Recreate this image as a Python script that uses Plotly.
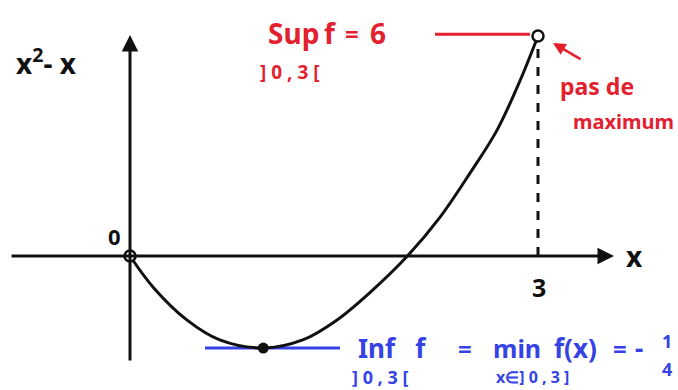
import plotly.graph_objects as go

# hand-drawn curve of x^2 - x on ]0,3[ (sketch units, not to scale)
curve_x = [0, 0.17, 0.42, 0.66, 0.98, 1.27, 1.52, 1.76, 2.04, 2.28, 2.5, 2.7, 2.87, 3.0]
curve_y = [0, -0.85, -1.75, -2.29, -2.51, -2.29, -1.75, -1.01, 0, 1.06, 2.26, 3.44, 4.8, 6.0]

sup_x, sup_y = 3.0, 6.0
inf_x, inf_y = 0.98, -2.51
open_x = [0, sup_x]
open_y = [0, sup_y]

RED = "#e3202e"
BLUE = "#3442e6"
INK = "#111111"
FONT = "Noto Sans, Lato, sans-serif"

W, H = 678, 390
X0, Y0, SX, SY = 130, 256, 136, 36.67   # pixel of origin + px per unit


def dx(px):
    return (px - X0) / SX


def dy(py):
    return (Y0 - py) / SY


fig = go.Figure()

# axes
fig.add_annotation(x=dx(614), y=0, ax=dx(10), ay=0, xref="x", yref="y", axref="x", ayref="y",
                   showarrow=True, arrowhead=2, arrowsize=1.1, arrowwidth=3, arrowcolor=INK, text="")
fig.add_annotation(x=0, y=dy(35), ax=0, ay=dy(362), xref="x", yref="y", axref="x", ayref="y",
                   showarrow=True, arrowhead=2, arrowsize=1.1, arrowwidth=3, arrowcolor=INK, text="")

# dashed drop line at x = 3
fig.add_trace(go.Scatter(x=[sup_x, sup_x], y=[0, sup_y], mode="lines",
                         line=dict(color=INK, width=3, dash="dash"), hoverinfo="skip"))

# sup / inf guide lines
fig.add_trace(go.Scatter(x=[dx(435), dx(530)], y=[sup_y + 0.05, sup_y + 0.05], mode="lines",
                         line=dict(color=RED, width=3), hoverinfo="skip"))
fig.add_trace(go.Scatter(x=[dx(205), dx(340)], y=[inf_y, inf_y], mode="lines",
                         line=dict(color=BLUE, width=3), hoverinfo="skip"))

# the curve
fig.add_trace(go.Scatter(x=curve_x, y=curve_y, mode="lines",
                         line=dict(color=INK, width=3, shape="spline", smoothing=1.0)))

# open end points, filled minimum
fig.add_trace(go.Scatter(x=open_x, y=open_y, mode="markers",
                         marker=dict(symbol="circle", size=11, color="white",
                                     line=dict(color=INK, width=2.5))))
fig.add_trace(go.Scatter(x=[inf_x], y=[inf_y], mode="markers",
                         marker=dict(symbol="circle", size=11, color=INK)))


def txt(px, py, s, color=INK, size=22, anchor="center"):
    fig.add_annotation(x=px / W, y=1 - py / H, xref="paper", yref="paper", text="<b>" + s + "</b>",
                       showarrow=False, xanchor=anchor, yanchor="middle",
                       font=dict(family=FONT, size=size, color=color))


# axis labels
txt(14, 62, "x<sup>2</sup>- x", size=28, anchor="left")
txt(114, 236, "0", size=22)
txt(634, 256, "x", size=28)
txt(539, 287, "3", size=25)

# sup annotation
txt(266, 33, "Sup", RED, 28, "left")
txt(330, 33, "f", RED, 28)
txt(352, 33, "=", RED, 24)
txt(378, 33, "6", RED, 28)
txt(258, 72, "] 0 , 3 [", RED, 19, "left")
fig.add_annotation(x=dx(553), y=dy(43), ax=dx(582), ay=dy(60), xref="x", yref="y",
                   axref="x", ayref="y", showarrow=True, arrowhead=2, arrowwidth=2.5,
                   arrowcolor=RED, text="")
txt(558, 86, "pas de", RED, 23, "left")
txt(571, 121, "maximum", RED, 20, "left")

# inf annotation
txt(356, 348, "Inf   f", BLUE, 26, "left")
txt(465, 348, "=", BLUE, 24)
txt(491, 348, "min", BLUE, 25, "left")
txt(552, 348, "f(x)", BLUE, 26, "left")
txt(620, 348, "=", BLUE, 24)
txt(639, 348, "-", BLUE, 26)
txt(667, 341, "1", BLUE, 18)
txt(667, 369, "4", BLUE, 18)
txt(350, 377, "] 0 , 3 [", BLUE, 18, "left")
txt(494, 377, "x∈] 0 , 3 ]", BLUE, 16, "left")

fig.update_layout(
    width=W, height=H, showlegend=False,
    margin=dict(l=0, r=0, t=0, b=0),
    paper_bgcolor="white", plot_bgcolor="white",
    xaxis=dict(range=[dx(0), dx(W)], visible=False, fixedrange=True),
    yaxis=dict(range=[dy(H), dy(0)], visible=False, fixedrange=True),
)

fig.write_html("out.html", config={"displayModeBar": False},
               post_script="document.body.style.margin='0';")
